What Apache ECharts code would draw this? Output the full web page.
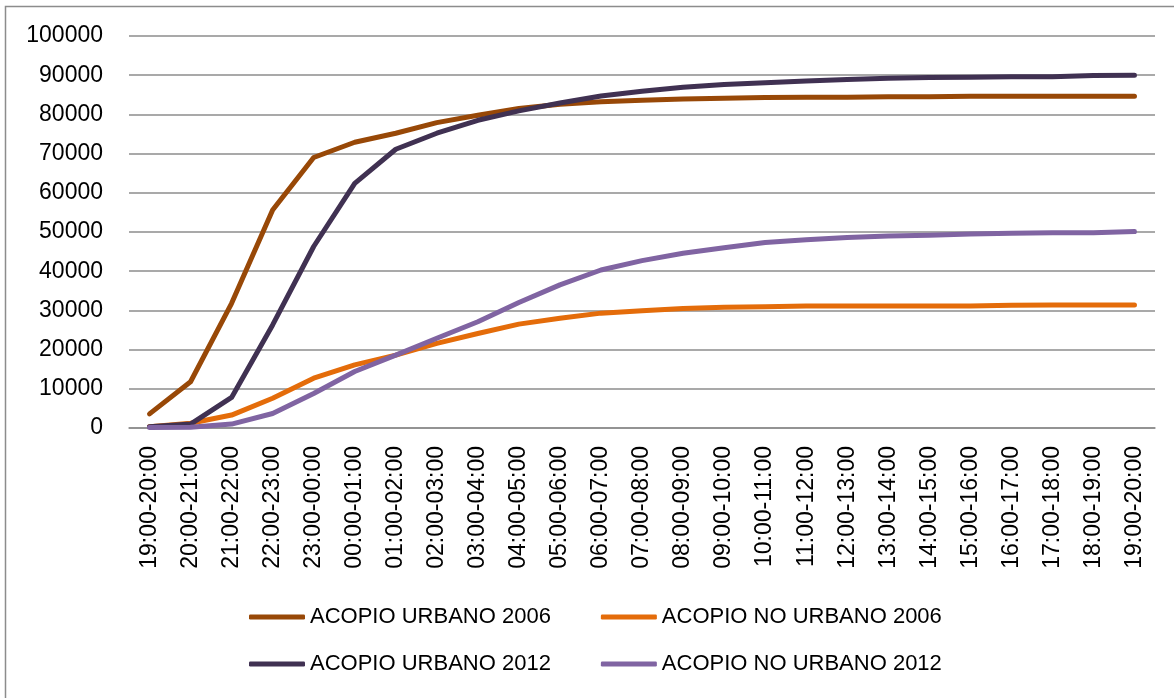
<!DOCTYPE html>
<html>
<head>
<meta charset="utf-8">
<script src="https://cdn.jsdelivr.net/npm/echarts@6/dist/echarts.min.js"></script>
<style>
html,body{margin:0;padding:0;background:#fff;}
#c{width:1174px;height:698px;}
</style>
</head>
<body>
<div id="c"></div>
<script>
const categories = ['19:00-20:00','20:00-21:00','21:00-22:00','22:00-23:00','23:00-00:00','00:00-01:00','01:00-02:00','02:00-03:00','03:00-04:00','04:00-05:00','05:00-06:00','06:00-07:00','07:00-08:00','08:00-09:00','09:00-10:00','10:00-11:00','11:00-12:00','12:00-13:00','13:00-14:00','14:00-15:00','15:00-16:00','16:00-17:00','17:00-18:00','18:00-19:00','19:00-20:00'];
const urbano2006 = [3600, 11800, 31800, 55600, 69000, 72900, 75200, 77900, 79800, 81500, 82600, 83200, 83600, 83900, 84100, 84300, 84400, 84400, 84500, 84500, 84600, 84600, 84600, 84600, 84600];
const noUrbano2006 = [350, 1200, 3300, 7600, 12700, 16100, 18600, 21600, 24100, 26500, 28000, 29300, 29900, 30500, 30800, 30900, 31100, 31100, 31100, 31100, 31100, 31300, 31400, 31400, 31400];
const urbano2012 = [300, 1000, 7800, 26300, 46300, 62400, 71100, 75200, 78500, 80900, 82900, 84700, 85900, 86900, 87600, 88100, 88500, 88900, 89200, 89400, 89500, 89600, 89600, 89900, 90000];
const noUrbano2012 = [100, 200, 1000, 3700, 8800, 14400, 18600, 22900, 27100, 32000, 36500, 40300, 42700, 44600, 46000, 47300, 48000, 48600, 49000, 49200, 49500, 49700, 49800, 49800, 50100];
const seriesNames = ['ACOPIO URBANO 2006','ACOPIO NO URBANO 2006','ACOPIO URBANO 2012','ACOPIO NO URBANO 2012'];
const colors = ['#984807','#E46C0A','#403152','#8064A2'];

const chart = echarts.init(document.getElementById('c'), null, {renderer:'canvas'});
const legendText = {fontFamily:'"Liberation Sans",Arial,sans-serif', fontSize:22, color:'#000'};
const mk = (name, data, i) => ({
  name, type:'line', data, symbol:'none', smooth:false,
  lineStyle:{width:5, color:colors[i], cap:'round', join:'round'},
  itemStyle:{color:colors[i]}
});
chart.setOption({
  animation:false,
  backgroundColor:'#fff',
  graphic:[{type:'rect', shape:{x:5.5,y:6.5,width:1300,height:800}, style:{fill:'none', stroke:'#8c8c8c', lineWidth:1.5}, silent:true, z:-1}],
  grid:{left:129, right:19, top:36, height:392, containLabel:false},
  xAxis:{type:'category', data:categories, boundaryGap:true,
    axisLine:{show:true, lineStyle:{color:'#8c8c8c', width:1.5}},
    axisTick:{show:false},
    axisLabel:{rotate:90, margin:18, fontSize:23, color:'#000', fontFamily:'"Liberation Sans",Arial,sans-serif', interval:0}},
  yAxis:{type:'value', min:0, max:100000, interval:10000,
    axisLine:{show:false}, axisTick:{show:false},
    splitLine:{lineStyle:{color:'#8c8c8c', width:1.5}},
    axisLabel:{margin:26, fontSize:23, color:'#000', fontFamily:'"Liberation Sans",Arial,sans-serif', formatter:(v)=>String(v)}},
  legend:[
    {data:[seriesNames[0], seriesNames[1]], left:249, top:606, icon:'roundRect', itemWidth:56, itemHeight:5, itemGap:50, textStyle:legendText, padding:0},
    {data:[seriesNames[2], seriesNames[3]], left:249, top:653, icon:'roundRect', itemWidth:56, itemHeight:5, itemGap:50, textStyle:legendText, padding:0}
  ],
  series:[
    mk(seriesNames[0], urbano2006, 0),
    mk(seriesNames[1], noUrbano2006, 1),
    mk(seriesNames[2], urbano2012, 2),
    mk(seriesNames[3], noUrbano2012, 3)
  ]
});
</script>
</body>
</html>
